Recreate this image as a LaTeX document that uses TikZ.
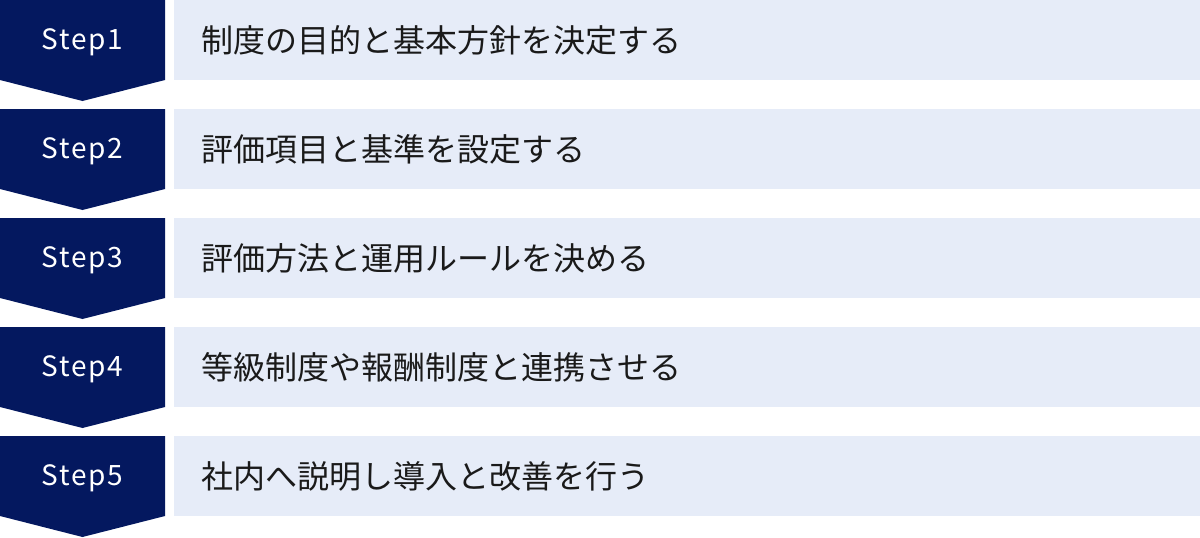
\documentclass[tikz,border=0pt]{standalone}
\usepackage{fontspec}
\setmainfont{Noto Sans CJK JP}
\newfontfamily\jpfont{Noto Sans CJK JP}
\newfontfamily\stepfont[LetterSpace=6]{Noto Sans CJK JP}
\definecolor{navy}{HTML}{04185F}
\definecolor{lightbox}{HTML}{E6ECF8}
\definecolor{txt}{HTML}{1A1A1A}
\tikzset{
  stepshape/.style={fill=navy, draw=none},
  steplabel/.style={text=white, font=\stepfont\fontsize{28}{30}\selectfont, inner sep=0pt, anchor=center},
  contentbox/.style={fill=lightbox, draw=none},
  contentlabel/.style={text=txt, font=\jpfont\fontsize{32}{34}\selectfont, inner sep=0pt, anchor=west},
}
\begin{document}
\begin{tikzpicture}[x=1pt,y=-1pt]
\useasboundingbox (0,0) rectangle (1200,538);
\foreach \i/\t in {1/制度の目的と基本方針を決定する,2/評価項目と基準を設定する,3/評価方法と運用ルールを決める,4/等級制度や報酬制度と連携させる,5/社内へ説明し導入と改善を行う}{
  \pgfmathsetmacro{\yy}{(\i-1)*109}
  \fill[stepshape] (0,\yy) -- (165,\yy) -- (165,\yy+80) -- (82.5,\yy+101) -- (0,\yy+80) -- cycle;
  \node[steplabel] (s\i) at (82.5,\yy+42) {Step\i};
  \fill[contentbox] (174,\yy) rectangle (1200,\yy+80);
  \node[contentlabel] (c\i) at (201,\yy+40) {\t};
}
\end{tikzpicture}
\end{document}
